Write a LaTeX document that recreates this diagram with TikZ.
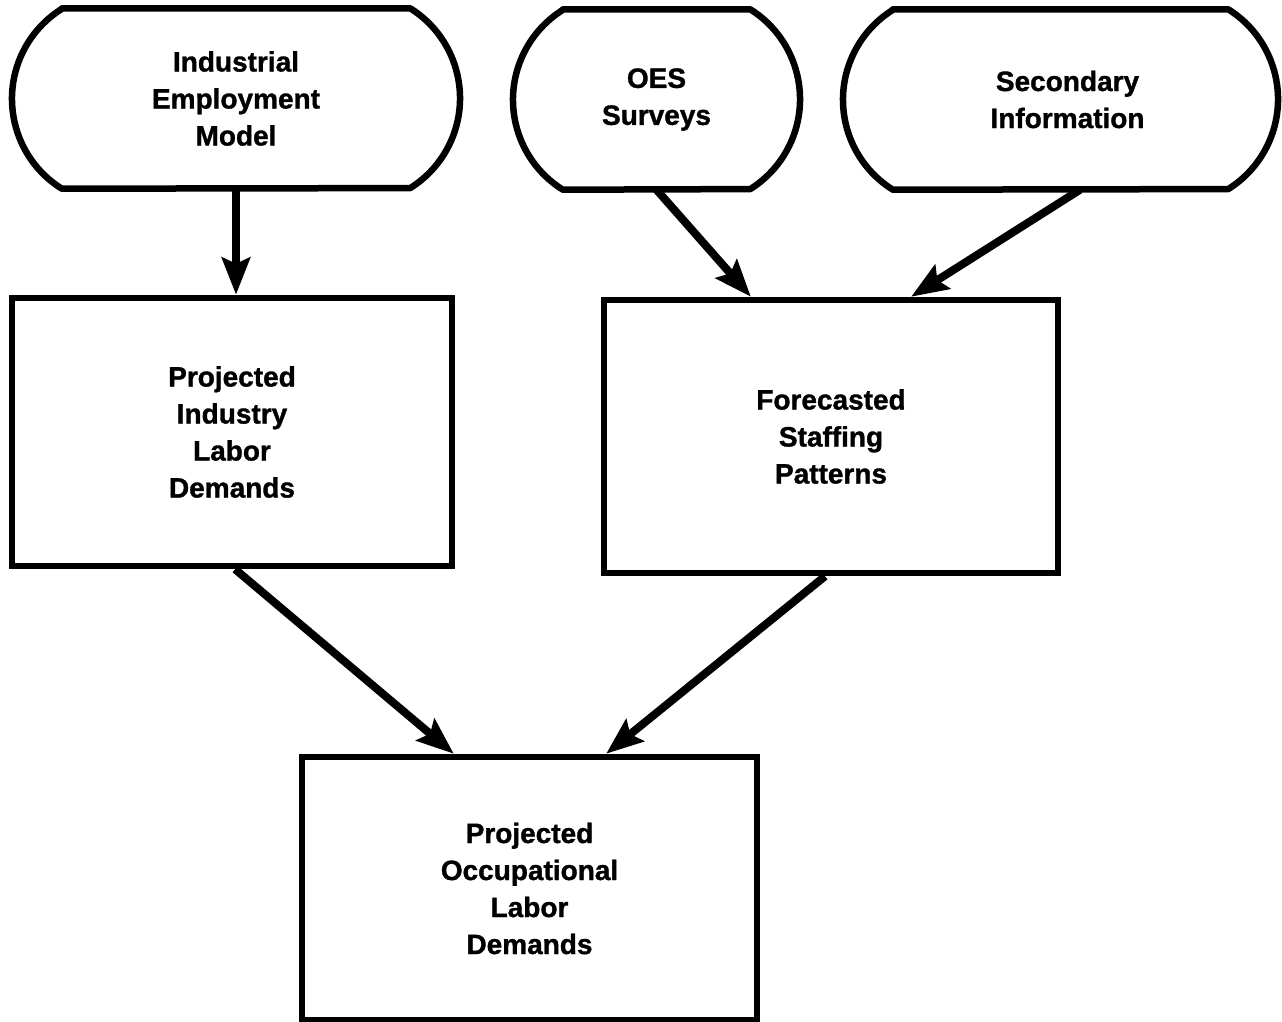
\documentclass[tikz,border=0pt]{standalone}
\usepackage{fontspec}
\setmainfont{Liberation Sans}[BoldFeatures={FakeBold=1.2}]
\usetikzlibrary{calc,arrows.meta}

\tikzset{
  flowtext/.style={align=center, font=\bfseries\fontsize{28}{37}\selectfont},
  terminal/.style={flowtext, inner sep=0pt, minimum height=180pt},
  stepbox/.style={flowtext, draw, line width=6.5pt, inner sep=0pt},
  outline/.style={line width=6.5pt, line join=round},
  flow/.style={line width=8pt, -{Stealth[length=37pt,width=28pt,inset=6pt]}},
}

% rounded-end source shape drawn around a named node
\newcommand{\terminalshape}[1]{%
  \draw[outline] ($(#1.north west)+(50,0)$) -- ($(#1.north east)+(-50,0)$)
    arc[start angle=58, end angle=-58, radius=106]
    -- ($(#1.south west)+(50,0)$)
    arc[start angle=238, end angle=122, radius=106] -- cycle;}

\begin{document}
\begin{tikzpicture}[x=1pt, y=1pt]
  \useasboundingbox[fill=white] (0,0) rectangle (1282,-1022);

  % sources
  \node[terminal, minimum width=448pt] (iem) at (236,-98.5) {Industrial\\Employment\\Model};
  \node[terminal, minimum width=287pt] (oes) at (656.5,-99.5) {OES\\Surveys};
  \node[terminal, minimum width=435pt] (sec) at (1060.5,-99.5) {\hspace*{14pt}Secondary\\\hspace*{14pt}Information};
  \terminalshape{iem}
  \terminalshape{oes}
  \terminalshape{sec}

  % intermediate results
  \node[stepbox, minimum width=440pt, minimum height=268pt] (pild) at (232,-432)
    {Projected\\Industry\\Labor\\Demands};
  \node[stepbox, minimum width=454pt, minimum height=273pt] (fsp) at (831,-436.5)
    {Forecasted\\Staffing\\Patterns};

  % final result
  \node[stepbox, minimum width=455pt, minimum height=263pt] (pold) at (529.5,-888.5)
    {Projected\\Occupational\\Labor\\Demands};

  % connectors
  \draw[flow] (iem.south) -- (iem.south |- pild.north);
  \draw[flow] (oes.south) -- ($(fsp.north west)!0.326!(fsp.north east)$);
  \draw[flow] ($(sec.south west)!0.545!(sec.south east)$) -- ($(fsp.north west)!0.674!(fsp.north east)$);
  \draw[flow] ($(pild.south west)!0.507!(pild.south east)$) -- ($(pold.north west)!0.336!(pold.north east)$);
  \draw[flow] ($(fsp.south west)!0.487!(fsp.south east)$) -- ($(pold.north west)!0.666!(pold.north east)$);
\end{tikzpicture}
\end{document}
